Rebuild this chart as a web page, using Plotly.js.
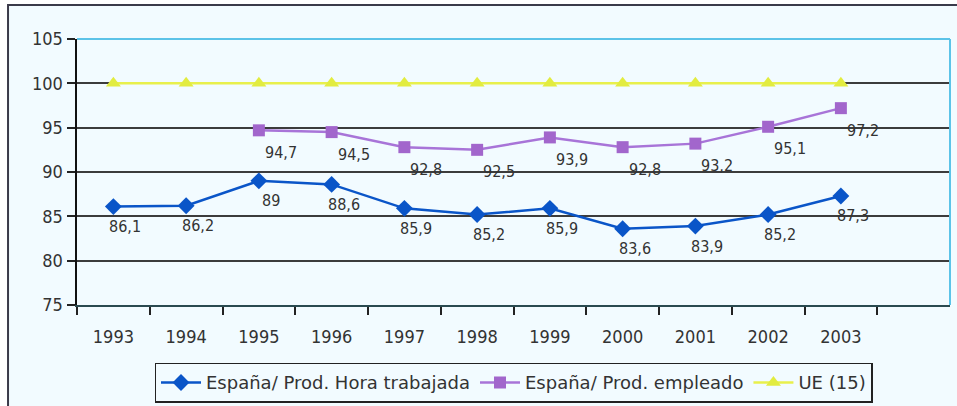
<!DOCTYPE html>
<html>
<head>
<meta charset="utf-8">
<script src="https://cdn.plot.ly/plotly-3.0.1.min.js"></script>
<style>html,body{margin:0;padding:0;background:#fff;}#chart{width:957px;height:406px;}</style>
</head>
<body>
<div id="chart"></div>
<script>
const years = ['1993','1994','1995','1996','1997','1998','1999','2000','2001','2002','2003'];
const prodHora = [86.1, 86.2, 89, 88.6, 85.9, 85.2, 85.9, 83.6, 83.9, 85.2, 87.3];
const prodEmpleado = [null, null, 94.7, 94.5, 92.8, 92.5, 93.9, 92.8, 93.2, 95.1, 97.2];
const ue15 = [100, 100, 100, 100, 100, 100, 100, 100, 100, 100, 100];
const seriesNames = ['España/ Prod. Hora trabajada', 'España/ Prod. empleado', 'UE (15)'];
const yTicks = [75, 80, 85, 90, 95, 100, 105];

const FONT = 'DejaVu Sans Condensed, DejaVu Sans, sans-serif';
const fmt = v => String(v).replace('.', ',');

const traces = [
  {x: years, y: prodHora, name: seriesNames[0], type: 'scatter', mode: 'lines+markers',
   line: {color: '#0a55c8', width: 2.5}, marker: {symbol: 'diamond', size: 13, color: '#0a55c8'}},
  {x: years, y: prodEmpleado, name: seriesNames[1], type: 'scatter', mode: 'lines+markers',
   line: {color: '#a874d8', width: 2.5}, marker: {symbol: 'square', size: 12, color: '#a266cc'}},
  {x: years, y: ue15, name: seriesNames[2], type: 'scatter', mode: 'lines+markers',
   line: {color: '#e8f04c', width: 2.5}, marker: {symbol: 'triangle-up', size: 13, color: '#e2ec40'}}
];

const annotations = [];
for (let i = 0; i < years.length; i++) {
  if (prodHora[i] !== null) {
    annotations.push({xref: 'x', yref: 'y', x: i, y: prodHora[i], text: fmt(prodHora[i]), showarrow: false,
      xshift: 12, yshift: -20, font: {family: FONT, size: 16, color: '#333'}});
  }
  if (prodEmpleado[i] !== null) {
    annotations.push({xref: 'x', yref: 'y', x: i, y: prodEmpleado[i], text: fmt(prodEmpleado[i]), showarrow: false,
      xshift: 22, yshift: -22, font: {family: FONT, size: 16, color: '#333'}});
  }
}

const layout = {
  width: 957, height: 406,
  margin: {l: 77, r: 7, t: 39, b: 101},
  paper_bgcolor: '#ffffff',
  plot_bgcolor: '#f0fbff',
  showlegend: true,
  legend: {orientation: 'h', xref: 'paper', x: 0.5, xanchor: 'center', yref: 'container', y: 0.008, yanchor: 'bottom',
    bgcolor: '#f2fbff', bordercolor: '#222', borderwidth: 1.5,
    font: {family: 'DejaVu Sans, sans-serif', size: 18, color: '#333'}, itemwidth: 40},
  xaxis: {type: 'category', categoryorder: 'array', categoryarray: years, range: [-0.5, 11.5],
    tickson: 'boundaries', ticks: 'outside', ticklen: 8, tickwidth: 2, tickcolor: '#222',
    ticklabelstandoff: 14, automargin: false,
    showgrid: false, showline: true, linecolor: '#2a4a50', linewidth: 2,
    tickfont: {family: FONT, size: 18, color: '#333'}, zeroline: false, fixedrange: true},
  yaxis: {range: [75, 105], tickvals: yTicks, ticks: 'outside', ticklen: 8, tickwidth: 2, tickcolor: '#222',
    showgrid: true, gridcolor: '#3c3c3c', gridwidth: 2, automargin: false,
    showline: true, linecolor: '#111', linewidth: 2.5, zeroline: false,
    tickfont: {family: FONT, size: 18, color: '#333'}, fixedrange: true},
  annotations: annotations,
  shapes: [
    {type: 'rect', xref: 'paper', yref: 'paper', x0: -0.079, x1: 1.1, y0: -0.5, y1: 1.128,
     fillcolor: '#f2fbff', line: {color: '#3a3a4a', width: 2}, layer: 'below'},
    {type: 'line', xref: 'paper', yref: 'paper', x0: 0, x1: 1, y0: 1, y1: 1, line: {color: '#5cc3e8', width: 2}, layer: 'above'},
    {type: 'line', xref: 'paper', yref: 'paper', x0: 1, x1: 1, y0: 0, y1: 1, line: {color: '#5cc3e8', width: 2}, layer: 'above'}
  ]
};

Plotly.newPlot('chart', traces, layout, {displayModeBar: false, staticPlot: true});
</script>
</body>
</html>
